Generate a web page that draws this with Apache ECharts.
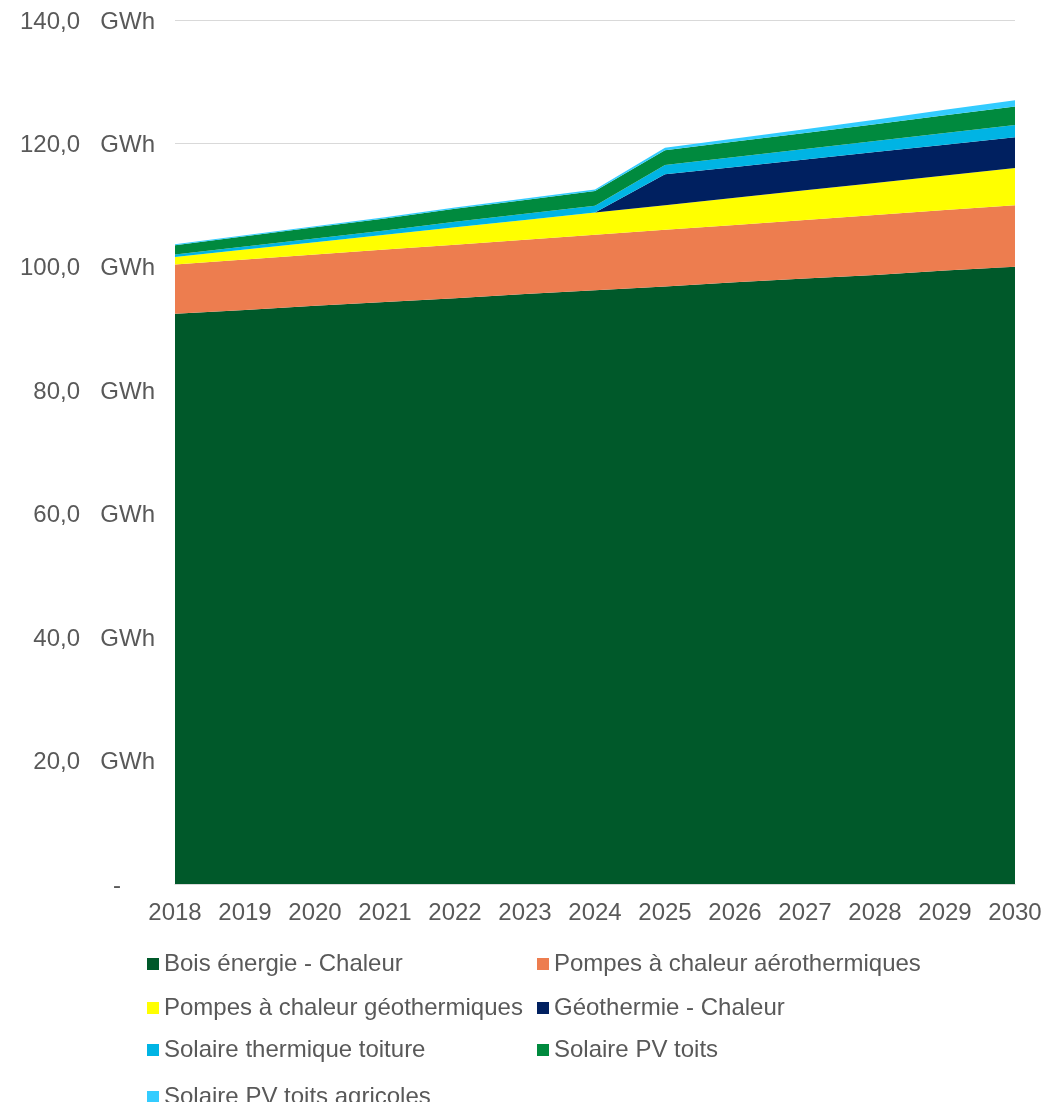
<!DOCTYPE html>
<html>
<head>
<meta charset="utf-8">
<script src="https://cdn.jsdelivr.net/npm/echarts@6/dist/echarts.min.js"></script>
<style>html,body{margin:0;padding:0;background:#fff}#c{width:1060px;height:1102px}</style>
</head>
<body>
<div id="c"></div>
<script>
var years = ['2018','2019','2020','2021','2022','2023','2024','2025','2026','2027','2028','2029','2030'];
var seriesNames = ['Bois énergie - Chaleur','Pompes à chaleur aérothermiques','Pompes à chaleur géothermiques','Géothermie - Chaleur','Solaire thermique toiture','Solaire PV toits','Solaire PV toits agricoles'];
var bois      = [92.4, 93.0, 93.7, 94.3, 94.9, 95.6, 96.2, 96.8, 97.5, 98.1, 98.7, 99.4, 100.0];
var pacAero   = [8.0, 8.2, 8.3, 8.5, 8.7, 8.8, 9.0, 9.2, 9.3, 9.5, 9.7, 9.8, 10.0];
var pacGeo    = [1.2, 1.6, 2.0, 2.4, 2.8, 3.2, 3.6, 4.0, 4.4, 4.8, 5.2, 5.6, 6.0];
var geoChal   = [0, 0, 0, 0, 0, 0, 0, 5.0, 5.0, 5.0, 5.0, 5.0, 5.0];
var solTherm  = [0.4, 0.5, 0.6, 0.7, 0.9, 1.0, 1.1, 1.5, 1.6, 1.7, 1.8, 1.9, 2.0];
var pvToits   = [1.5, 1.65, 1.8, 1.95, 2.1, 2.25, 2.4, 2.4, 2.5, 2.6, 2.7, 2.85, 3.0];
var pvAgri    = [0.15, 0.17, 0.18, 0.2, 0.22, 0.23, 0.25, 0.4, 0.5, 0.6, 0.75, 0.9, 1.0];
var yTicks = [0, 20, 40, 60, 80, 100, 120, 140];

var colors = ['#00592A','#ED7D4F','#FFFF00','#002060','#00B4E4','#008A3E','#33CCFF'];
var dataArr = [bois, pacAero, pacGeo, geoChal, solTherm, pvToits, pvAgri];
var FONT = 'Liberation Sans, Arial, sans-serif';
var TXT = '#595959';
var FS = 24;

var series = seriesNames.map(function(n, i){
  return {
    name: n, type: 'line', stack: 'total', data: dataArr[i],
    symbol: 'none', lineStyle: {width: 0}, areaStyle: {color: colors[i], opacity: 1},
    itemStyle: {color: colors[i]}, emphasis: {disabled: true}
  };
});

var legendText = {color: TXT, fontSize: FS, fontFamily: FONT, lineHeight: 24};
// legend layout: 2 columns, rows every ~43px
var legPos = [[142, 947], [532, 947], [142, 991], [532, 991], [142, 1033], [532, 1033], [142, 1080]];
var legends = seriesNames.map(function(n, i){
  return {
    left: legPos[i][0], top: legPos[i][1], itemWidth: 12, itemHeight: 12, itemGap: 0,
    icon: 'rect', textStyle: legendText, data: [n]
  };
});

var chart = echarts.init(document.getElementById('c'));
chart.setOption({
  animation: false,
  grid: {left: 175, right: 45, top: 20, bottom: 218},
  xAxis: {
    type: 'category', data: years, boundaryGap: false,
    axisLine: {lineStyle: {color: '#D9D9D9', width: 1}},
    axisTick: {show: false},
    axisLabel: {color: TXT, fontSize: FS, fontFamily: FONT, margin: 17, interval: 0}
  },
  yAxis: {
    type: 'value', min: yTicks[0], max: yTicks[yTicks.length-1], interval: 20,
    axisLine: {show: false}, axisTick: {show: false},
    splitLine: {lineStyle: {color: '#D9D9D9', width: 1}},
    axisLabel: {
      margin: 20,
      formatter: function(v){
        if (v === 0) return '{z|-}{s| }';
        return '{v|' + v.toFixed(1).replace('.', ',') + '}{u|GWh}';
      },
      rich: {
        v: {color: TXT, fontSize: FS, fontFamily: FONT, width: 80, align: 'right', padding: [4, 0, 0, 0]},
        u: {color: TXT, fontSize: FS, fontFamily: FONT, width: 75, align: 'right', padding: [4, 0, 0, 0]},
        z: {color: TXT, fontSize: FS, fontFamily: FONT, padding: [4, 0, 0, 0]},
        s: {fontSize: FS, fontFamily: FONT, width: 34}
      }
    }
  },
  legend: legends,
  series: series
});
</script>
</body>
</html>
